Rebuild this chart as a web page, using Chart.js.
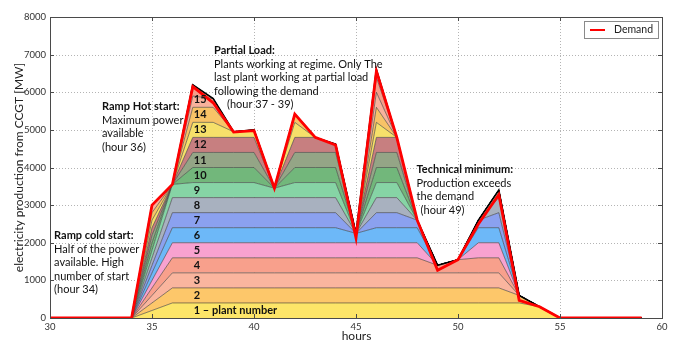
<!DOCTYPE html>
<html>
<head>
<meta charset="utf-8">
<script src="https://cdn.jsdelivr.net/npm/chart.js@4.4.1/dist/chart.umd.min.js"></script>
<style>
  html, body { margin: 0; padding: 0; background: #ffffff; }
  #wrap { width: 675px; height: 342px; }
</style>
</head>
<body>
<div id="wrap"><canvas id="c" width="675" height="342"></canvas></div>
<script>
// Hourly output of each CCGT plant [MW], hours 30..59
const hours = [30,31,32,33,34,35,36,37,38,39,40,41,42,43,44,45,46,47,48,49,50,51,52,53,54,55,56,57,58,59];

const plant1  = [0,0,0,0,0,200,400,400,400,400,400,400,400,400,400,400,400,400,400,400,400,400,400,400,300,0,0,0,0,0];
const plant2  = [0,0,0,0,0,200,400,400,400,400,400,400,400,400,400,400,400,400,400,400,400,400,400,200,0,0,0,0,0,0];
const plant3  = [0,0,0,0,0,200,400,400,400,400,400,400,400,400,400,400,400,400,400,400,400,400,400,0,0,0,0,0,0,0];
const plant4  = [0,0,0,0,0,200,400,400,400,400,400,400,400,400,400,400,400,400,400,200,350,400,400,0,0,0,0,0,0,0];
const plant5  = [0,0,0,0,0,200,400,400,400,400,400,400,400,400,400,400,400,400,400,0,0,400,400,0,0,0,0,0,0,0];
const plant6  = [0,0,0,0,0,200,400,400,400,400,400,400,400,400,400,250,400,400,400,0,0,400,400,0,0,0,0,0,0,0];
const plant7  = [0,0,0,0,0,200,400,400,400,400,400,400,400,400,400,0,400,400,200,0,0,200,400,0,0,0,0,0,0,0];
const plant8  = [0,0,0,0,0,200,400,400,400,400,400,400,400,400,400,0,400,400,0,0,0,0,400,0,0,0,0,0,0,0];
const plant9  = [0,0,0,0,0,200,350,400,400,400,400,250,400,400,400,0,400,400,0,0,0,0,200,0,0,0,0,0,0,0];
const plant10 = [0,0,0,0,0,200,0,400,400,400,400,0,400,400,400,0,400,400,0,0,0,0,0,0,0,0,0,0,0,0];
const plant11 = [0,0,0,0,0,200,0,400,400,400,400,0,400,400,400,0,400,400,0,0,0,0,0,0,0,0,0,0,0,0];
const plant12 = [0,0,0,0,0,200,0,400,400,400,400,0,400,400,220,0,400,400,0,0,0,0,0,0,0,0,0,0,0,0];
const plant13 = [0,0,0,0,0,200,0,400,400,150,200,0,400,0,0,0,400,0,0,0,0,0,0,0,0,0,0,0,0,0];
const plant14 = [0,0,0,0,0,200,0,400,400,0,0,0,220,0,0,0,400,0,0,0,0,0,0,0,0,0,0,0,0,0];
const plant15 = [0,0,0,0,0,200,0,300,230,0,0,0,0,0,0,0,400,0,0,0,0,0,0,0,0,0,0,0,0,0];
const plant16 = [0,0,0,0,0,0,0,300,0,0,0,0,0,0,0,0,400,0,0,0,0,0,0,0,0,0,0,0,0,0];
const plant17 = [0,0,0,0,0,0,0,0,0,0,0,0,0,0,0,0,200,0,0,0,0,0,0,0,0,0,0,0,0,0];

// Electricity demand [MW]
const demand = [0,0,0,0,0,3000,3550,6150,5720,4940,4980,3450,5420,4800,4600,2130,6560,4800,2600,1270,1550,2500,3280,470,300,0,0,0,0,0];

// Axis ticks
const xTicks = [30,35,40,45,50,55,60];
const yTicks = [0,1000,2000,3000,4000,5000,6000,7000,8000];

// Band labels, one per plant (written in the middle of its 400 MW band)
const plantLabels = ['1 \u2013 plant number','2','3','4','5','6','7','8','9','10','11','12','13','14','15'];
const plantCapacity = 400;

const plants = [plant1,plant2,plant3,plant4,plant5,plant6,plant7,plant8,plant9,plant10,plant11,plant12,plant13,plant14,plant15,plant16,plant17];
const plantColors = ['#fde568','#fdc76a','#fab59e','#f8a08c','#f8a2d0','#6db8f8','#8ba1ef','#a8b1bf','#86d4a5','#72b77b','#94a586','#c77f80',
                     '#f6e06a','#f8c367','#f7b29c','#f59e8a','#f6a2cf'];

// Total CCGT production = sum of all plants
const production = hours.map((h, i) => plants.reduce((s, p) => s + p[i], 0));

const FONT = 'Lato, "Open Sans", "DejaVu Sans", sans-serif';

const toXY = arr => arr.map((v, i) => ({ x: hours[i], y: v }));

const datasets = plants.map((p, k) => ({
  label: 'plant ' + (k + 1),
  data: toXY(p),
  stack: 'plants',
  fill: k === 0 ? 'origin' : '-1',
  backgroundColor: plantColors[k],
  borderColor: 'rgba(55,55,55,0.75)',
  borderWidth: 0.8,
  pointRadius: 0,
  tension: 0,
  order: 0
}));
datasets.push({
  label: 'Production',
  data: toXY(production),
  stack: 'total',
  fill: false,
  borderColor: '#000000',
  borderWidth: 1.6,
  pointRadius: 0,
  tension: 0,
  order: -1
});
datasets.push({
  label: 'Demand',
  data: toXY(demand),
  stack: 'demand',
  fill: false,
  borderColor: '#ff0000',
  borderWidth: 2.8,
  pointRadius: 0,
  tension: 0,
  order: -2
});

// Explanatory notes, anchored in data space (hour, MW) at the first line's centre
const notes = [
  { hour: 30.2,  mw: 2185, title: 'Ramp cold start:',  body: ['Half of the power', 'available. High', 'number of start', '(hour 34)'], indent: [0,0,0,0] },
  { hour: 32.55, mw: 5611, title: 'Ramp Hot start:',   body: ['Maximum power', 'available', '(hour 36)'], indent: [0,0,0] },
  { hour: 38.04, mw: 7098, title: 'Partial Load:',     body: ['Plants working at regime. Only The', 'last plant working at partial load', 'following the demand', '(hour 37 - 39)'], indent: [0,0,0,13] },
  { hour: 47.97, mw: 3938, title: 'Technical minimum:', body: ['Production exceeds', 'the demand', '(hour 49)'], indent: [0,0,4] }
];

const decor = {
  id: 'decor',
  beforeDatasetsDraw(chart) {
    const { ctx, chartArea: a, scales: { x, y } } = chart;
    ctx.save();
    ctx.strokeStyle = '#b4b4b4';
    ctx.lineWidth = 1;
    ctx.setLineDash([1, 2]);
    xTicks.forEach(v => {
      const px = Math.round(x.getPixelForValue(v)) + 0.5;
      ctx.beginPath(); ctx.moveTo(px, a.top); ctx.lineTo(px, a.bottom); ctx.stroke();
    });
    yTicks.forEach(v => {
      const py = Math.round(y.getPixelForValue(v)) + 0.5;
      ctx.beginPath(); ctx.moveTo(a.left, py); ctx.lineTo(a.right, py); ctx.stroke();
    });
    ctx.restore();
  },
  afterDatasetsDraw(chart) {
    const { ctx, chartArea: a, scales: { x, y } } = chart;
    ctx.save();
    // frame and inward ticks
    ctx.strokeStyle = '#4a4a4a';
    ctx.lineWidth = 1;
    ctx.strokeRect(Math.round(a.left) + 0.5, Math.round(a.top) + 0.5, Math.round(a.right - a.left), Math.round(a.bottom - a.top));
    xTicks.forEach(v => {
      const px = Math.round(x.getPixelForValue(v)) + 0.5;
      ctx.beginPath();
      ctx.moveTo(px, a.bottom); ctx.lineTo(px, a.bottom - 4);
      ctx.moveTo(px, a.top); ctx.lineTo(px, a.top + 4);
      ctx.stroke();
    });
    yTicks.forEach(v => {
      const py = Math.round(y.getPixelForValue(v)) + 0.5;
      ctx.beginPath();
      ctx.moveTo(a.left, py); ctx.lineTo(a.left + 4, py);
      ctx.moveTo(a.right, py); ctx.lineTo(a.right - 4, py);
      ctx.stroke();
    });

    // plant numbers in their bands
    ctx.fillStyle = '#111111';
    ctx.textBaseline = 'middle';
    ctx.textAlign = 'left';
    ctx.font = 'bold 11px ' + FONT;
    plantLabels.forEach((t, k) => {
      ctx.fillText(t, x.getPixelForValue(37) + 1, y.getPixelForValue((k + 0.5) * plantCapacity));
    });

    // notes
    const lh = 13.4;
    notes.forEach(n => {
      const px = x.getPixelForValue(n.hour);
      const py = y.getPixelForValue(n.mw);
      ctx.font = 'bold 11px ' + FONT;
      ctx.fillText(n.title, px, py);
      ctx.font = '11px ' + FONT;
      n.body.forEach((t, i) => ctx.fillText(t, px + n.indent[i], py + lh * (i + 1)));
    });
    ctx.restore();
  },
  afterDraw(chart) {
    const { ctx, chartArea: a } = chart;
    ctx.save();
    // legend box
    const lx = a.right - 78, ly = a.top + 4;
    ctx.fillStyle = '#ffffff';
    ctx.fillRect(lx, ly, 74, 17);
    ctx.strokeStyle = '#8a8a8a';
    ctx.lineWidth = 1;
    ctx.strokeRect(lx + 0.5, ly + 0.5, 74, 17);
    ctx.strokeStyle = '#ff0000';
    ctx.lineWidth = 2;
    ctx.beginPath(); ctx.moveTo(lx + 6, ly + 9); ctx.lineTo(lx + 21, ly + 9); ctx.stroke();
    ctx.fillStyle = '#222222';
    ctx.font = '10.5px ' + FONT;
    ctx.textBaseline = 'middle';
    ctx.textAlign = 'left';
    ctx.fillText('Demand', lx + 30, ly + 9);

    // axis titles
    ctx.font = '12px ' + FONT;
    ctx.textAlign = 'center';
    ctx.fillText('hours', (a.left + a.right) / 2 + 0.5, 336);
    ctx.translate(19, (a.top + a.bottom) / 2);
    ctx.rotate(-Math.PI / 2);
    ctx.fillText('electricity production from CCGT [MW]', 0, 0);
    ctx.restore();
  }
};

new Chart(document.getElementById('c'), {
  type: 'line',
  data: { datasets },
  plugins: [decor],
  options: {
    responsive: false,
    devicePixelRatio: 1,
    animation: false,
    layout: { padding: { left: 0, right: 13, top: 17, bottom: 0 } },
    plugins: { legend: { display: false }, tooltip: { enabled: false } },
    elements: { line: { borderJoinStyle: 'miter' } },
    scales: {
      x: {
        type: 'linear', min: 30, max: 60,
        grid: { display: false, drawTicks: false },
        border: { display: false },
        afterBuildTicks: s => { s.ticks = xTicks.map(v => ({ value: v })); },
        afterFit: s => { s.height = 24; },
        ticks: { color: '#333333', padding: 3, maxRotation: 0, font: { family: FONT, size: 9.5 },
                 callback: v => String(v) }
      },
      y: {
        stacked: true, min: 0, max: 8000,
        grid: { display: false, drawTicks: false },
        border: { display: false },
        afterBuildTicks: s => { s.ticks = yTicks.map(v => ({ value: v })); },
        afterFit: s => { s.width = 50; },
        ticks: { color: '#333333', padding: 4, font: { family: FONT, size: 9.5 },
                 callback: v => String(v) }
      }
    }
  }
});
</script>
</body>
</html>
